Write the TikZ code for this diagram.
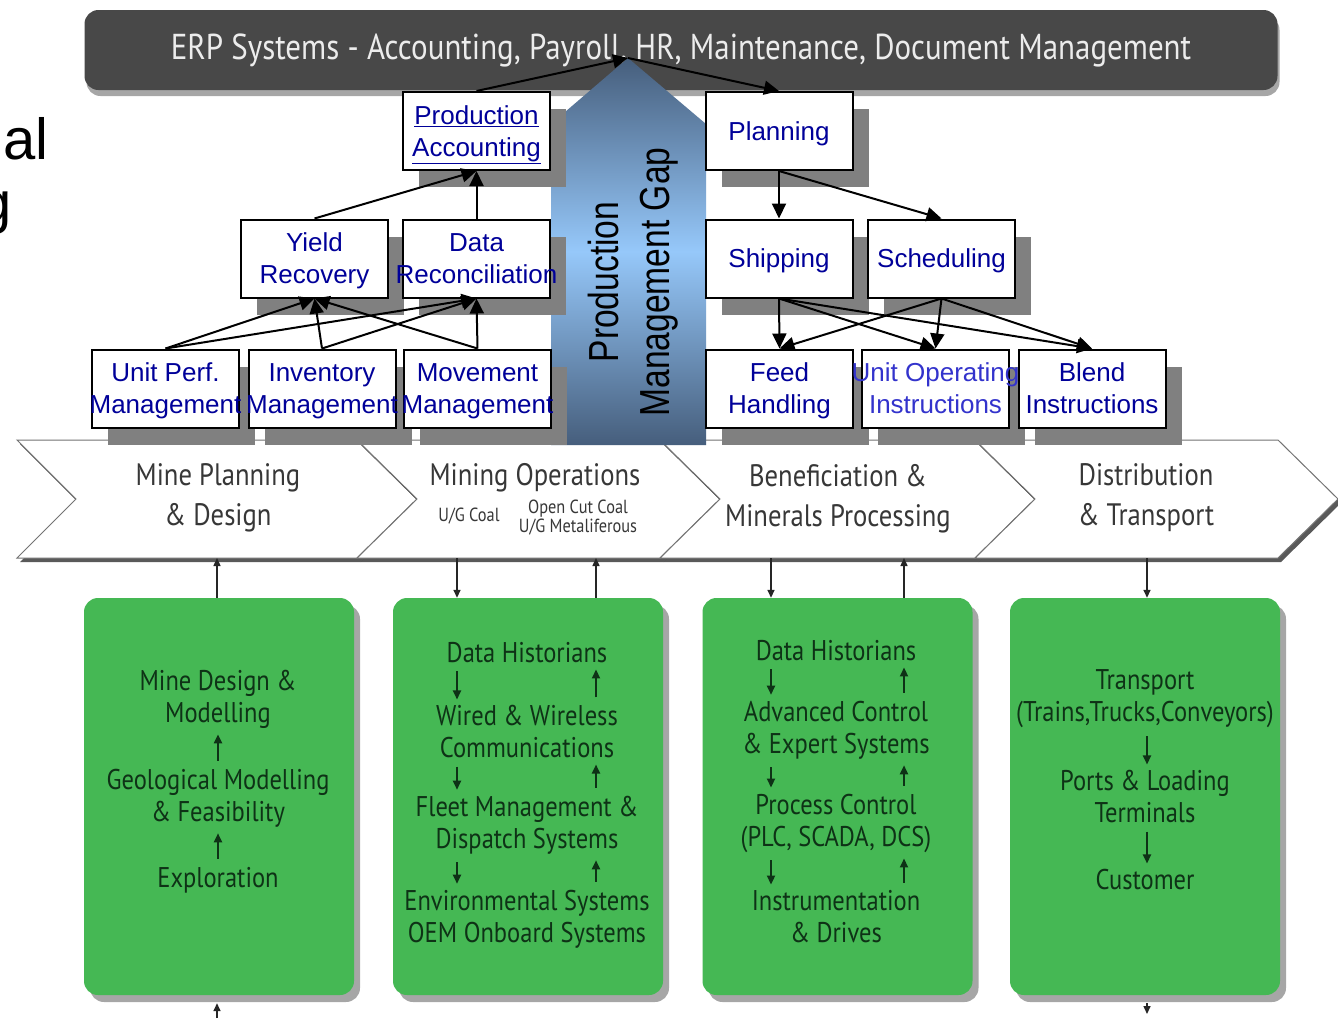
\documentclass[tikz,border=0pt]{standalone}
\usepackage{fontspec}
\setmainfont{Liberation Sans}
\newfontfamily\gillfont[FakeStretch=0.86]{PT Sans}
\usepackage{xcolor}
\usepackage{graphicx}
\usepackage{tikz}
\usetikzlibrary{arrows,arrows.meta,calc,positioning,shapes,shadows}

\definecolor{erpgray}{RGB}{72,72,72}
\definecolor{erptext}{RGB}{236,236,236}
\definecolor{boxblue}{RGB}{0,0,153}
\definecolor{opblue}{RGB}{51,51,204}
\definecolor{shadegray}{RGB}{128,128,128}
\definecolor{gapdark}{RGB}{70,94,124}
\definecolor{gaplight}{RGB}{150,200,250}
\definecolor{stagegray}{RGB}{55,55,55}
\definecolor{minegreen}{RGB}{69,184,84}
\definecolor{minetext}{RGB}{14,50,22}

% keeps a wide line centred on its box
\newcommand{\wide}[1]{\makebox[0pt]{#1}}

\tikzset{
  sysbox/.style={rectangle,draw=black,line width=2pt,fill=white,
    minimum width=147pt,minimum height=78pt,inner sep=0pt,align=center,
    text depth=0pt,text=boxblue,font=\fontsize{26}{32}\selectfont,
    drop shadow={shadow xshift=16pt,shadow yshift=-17pt,fill=shadegray,opacity=1}},
  flow/.style={->,line width=2pt,>={Triangle[length=15pt,width=14pt]}},
  stage/.style={fill=white,draw=black!55,line width=1pt,
    drop shadow={shadow xshift=3pt,shadow yshift=-4pt,fill=black,opacity=.65}},
  stagetext/.style={align=center,text=stagegray,font=\gillfont\fontsize{31}{40}\selectfont},
  stagesmall/.style={align=center,text=stagegray,font=\gillfont\fontsize{19}{19}\selectfont},
  greenbox/.style={rectangle,rounded corners=14pt,fill=minegreen,
    minimum width=270pt,minimum height=397pt,
    drop shadow={shadow xshift=6pt,shadow yshift=-7pt,fill=black,opacity=.35}},
  greentext/.style={align=center,inner sep=0pt,text=minetext,font=\gillfont\fontsize{28.5}{32}\selectfont},
  link/.style={->,line width=1.5pt,draw=black!85,>={Triangle[length=8pt,width=7pt]}},
  inlink/.style={->,line width=2pt,draw=minetext,>={Triangle[length=9pt,width=8pt]},
    shorten <=8pt,shorten >=6pt},
}

\begin{document}
\begin{tikzpicture}[x=1pt,y=-1pt]
    \useasboundingbox (0,0) rectangle (1338,1026);
    \fill[white] (0,0) rectangle (1338,1026);
    % cut title on the left
    \node[anchor=base east,inner sep=0pt,font=\fontsize{58}{60}\selectfont] (titleal) at (49,159) {al};
    \node[anchor=base east,inner sep=0pt,font=\fontsize{58}{60}\selectfont] (titleg) at (12,222) {g};
    % erp banner
    \node[rectangle,rounded corners=14pt,fill=erpgray,minimum width=1193pt,minimum height=80pt,
      drop shadow={shadow xshift=2pt,shadow yshift=-6pt,fill=black,opacity=.35},
      text=erptext,font=\gillfont\fontsize{36}{40}\selectfont] (erp) at (681,50)
      {ERP Systems - Accounting, Payroll, HR, Maintenance, Document Management};
    \coordinate (erptip) at (628,58);

    % value chain stages
    \draw[stage] (17,440) -- (357,440) -- (417,499) -- (357,558) -- (17,558) -- (76,499) -- cycle;
    \draw[stage] (357,440) -- (660,440) -- (720,499) -- (660,558) -- (357,558) -- (417,499) -- cycle;
    \draw[stage] (660,440) -- (975,440) -- (1035,499) -- (975,558) -- (660,558) -- (720,499) -- cycle;
    \draw[stage] (975,440) -- (1278,440) -- (1338,499) -- (1278,558) -- (975,558) -- (1035,499) -- cycle;
    \node[stagetext] (st1) at (218,498) {Mine Planning\\\& Design};
    \node[stagetext] (st2) at (535,478) {Mining Operations};
    \node[stagesmall] (st2a) at (469,516) {U/G Coal};
    \node[stagesmall] (st2b) at (578,518) {Open Cut Coal\\U/G Metaliferous};
    \node[stagetext] (st3) at (838,499) {Beneficiation \&\\Minerals Processing};
    \node[stagetext] (st4) at (1146,498) {Distribution\\\& Transport};
    % stage bottoms
    \coordinate (s1up) at (217,558);
    \coordinate (s2dn) at (457,558);
    \coordinate (s2up) at (596,558);
    \coordinate (s3dn) at (771,558);
    \coordinate (s3up) at (904,558);
    \coordinate (s4dn) at (1147,558);

    % green system boxes
    \node[greenbox] (gb1) at (219,796.5) {};
    \node[greenbox] (gb2) at (528,796.5) {};
    \node[greenbox] (gb3) at (837.5,796.5) {};
    \node[greenbox] (gb4) at (1145,796.5) {};
    % mine planning systems
    \node[greentext] (md1) at (218,699) {Mine Design \&\\Modelling};
    \node[greentext] (gm1) at (218,798) {Geological Modelling\\\& Feasibility};
    \node[greentext] (ex1) at (218,880) {Exploration};
    \draw[inlink] (gm1.north) -- (md1.south);
    \draw[inlink] (ex1.north) -- (gm1.south);
    % mining operations systems
    \node[greentext] (dh2) at (527,653) {Data Historians};
    \node[greentext] (wc2) at (527,732) {Wired \& Wireless\\Communications};
    \node[greentext] (fm2) at (527,825) {Fleet Management \&\\Dispatch Systems};
    \node[greentext] (es2) at (527,919) {Environmental Systems\\OEM Onboard Systems};
    \draw[inlink] (dh2.south -| s2dn) -- (wc2.north -| s2dn);
    \draw[inlink] (wc2.south -| s2dn) -- (fm2.north -| s2dn);
    \draw[inlink] (fm2.south -| s2dn) -- (es2.north -| s2dn);
    \draw[inlink] (wc2.north -| s2up) -- (dh2.south -| s2up);
    \draw[inlink] (fm2.north -| s2up) -- (wc2.south -| s2up);
    \draw[inlink] (es2.north -| s2up) -- (fm2.south -| s2up);
    % processing systems
    \node[greentext] (dh3) at (836,651) {Data Historians};
    \node[greentext] (ac3) at (836,730) {Advanced Control\\\& Expert Systems};
    \node[greentext] (pc3) at (836,823) {Process Control\\(PLC, SCADA, DCS)};
    \node[greentext] (id3) at (836,917) {Instrumentation\\\& Drives};
    \draw[inlink] (dh3.south -| s3dn) -- (ac3.north -| s3dn);
    \draw[inlink] (ac3.south -| s3dn) -- (pc3.north -| s3dn);
    \draw[inlink] (pc3.south -| s3dn) -- (id3.north -| s3dn);
    \draw[inlink] (ac3.north -| s3up) -- (dh3.south -| s3up);
    \draw[inlink] (pc3.north -| s3up) -- (ac3.south -| s3up);
    \draw[inlink] (id3.north -| s3up) -- (pc3.south -| s3up);
    % transport systems
    \node[greentext] (tr4) at (1145,699) {Transport\\(Trains,Trucks,Conveyors)};
    \node[greentext] (pl4) at (1145,797) {Ports \& Loading\\Terminals};
    \node[greentext] (cu4) at (1145,880) {Customer};
    \draw[inlink] (tr4.south -| s4dn) -- (pl4.north -| s4dn);
    \draw[inlink] (pl4.south -| s4dn) -- (cu4.north -| s4dn);

    % stage to box links
    \draw[link] (gb1.north -| s1up) -- (s1up);
    \draw[link] (s2dn) -- (gb2.north -| s2dn);
    \draw[link] (gb2.north -| s2up) -- (s2up);
    \draw[link] (s3dn) -- (gb3.north -| s3dn);
    \draw[link] (gb3.north -| s3up) -- (s3up);
    \draw[link] (s4dn) -- (gb4.north -| s4dn);
    \coordinate (b1) at (217,1018);
    \coordinate (b4) at (1147,1014);
    \draw[link] (b1) -- (gb1.south -| b1) [shorten >=8pt];
    \draw[link,shorten <=8pt] (gb4.south -| b4) -- (b4);

    % management gap arrow
    \shade[top color=gapdark,bottom color=gapdark,middle color=gaplight]
      (551,445) -- (551,124) -- (628,58) -- (706,124) -- (706,445) -- cycle;
    \node[rotate=90,align=center,font=\fontsize{42}{51}\selectfont] (gap) at (633,282)
      {\scalebox{0.8}[1]{Production}\\\scalebox{0.8}[1]{Management Gap}};

    % production side
    \node[sysbox] (pacc) at (476.5,131) {\underline{Production}\\\underline{Accounting}};
    \node[sysbox] (yield) at (314.5,258.5) {Yield\\Recovery};
    \node[sysbox] (datarec) at (476.5,258.5) {Data\\\wide{Reconciliation}};
    \node[sysbox] (unitperf) at (165.5,388.5) {Unit Perf.\\\wide{Management}};
    \node[sysbox] (inventory) at (322,388.5) {Inventory\\\wide{Management}};
    \node[sysbox] (movement) at (477.5,388.5) {Movement\\\wide{Management}};
    % planning side
    \node[sysbox] (planning) at (779,131) {Planning};
    \node[sysbox] (shipping) at (779,258.5) {Shipping};
    \node[sysbox] (scheduling) at (941.5,258.5) {Scheduling};
    \node[sysbox] (feed) at (779.5,388.5) {Feed\\Handling};
    \node[sysbox,text=opblue] (unitop) at (935.5,388.5) {\wide{Unit Operating}\\Instructions};
    \node[sysbox] (blend) at (1092,388.5) {Blend\\Instructions};

    % production links
    \draw[flow] (yield.north) -- (pacc.south);
    \draw[flow] (datarec.north) -- (pacc.south);
    \draw[flow] (pacc.north) -- (erptip);
    \draw[flow] (unitperf.north) -- (yield.south);
    \draw[flow] (unitperf.north) -- (datarec.south);
    \draw[flow] (inventory.north) -- (yield.south);
    \draw[flow] (inventory.north) -- (datarec.south);
    \draw[flow] (movement.north) -- (yield.south);
    \draw[flow] (movement.north) -- (datarec.south);
    % planning links
    \draw[flow] (erptip) -- (planning.north);
    \draw[flow] (planning.south) -- (shipping.north);
    \draw[flow] (planning.south) -- (scheduling.north);
    \draw[flow] (shipping.south) -- (feed.north);
    \draw[flow] (shipping.south) -- (unitop.north);
    \draw[flow] (shipping.south) -- (blend.north);
    \draw[flow] (scheduling.south) -- (feed.north);
    \draw[flow] (scheduling.south) -- (unitop.north);
    \draw[flow] (scheduling.south) -- (blend.north);
\end{tikzpicture}
\end{document}
